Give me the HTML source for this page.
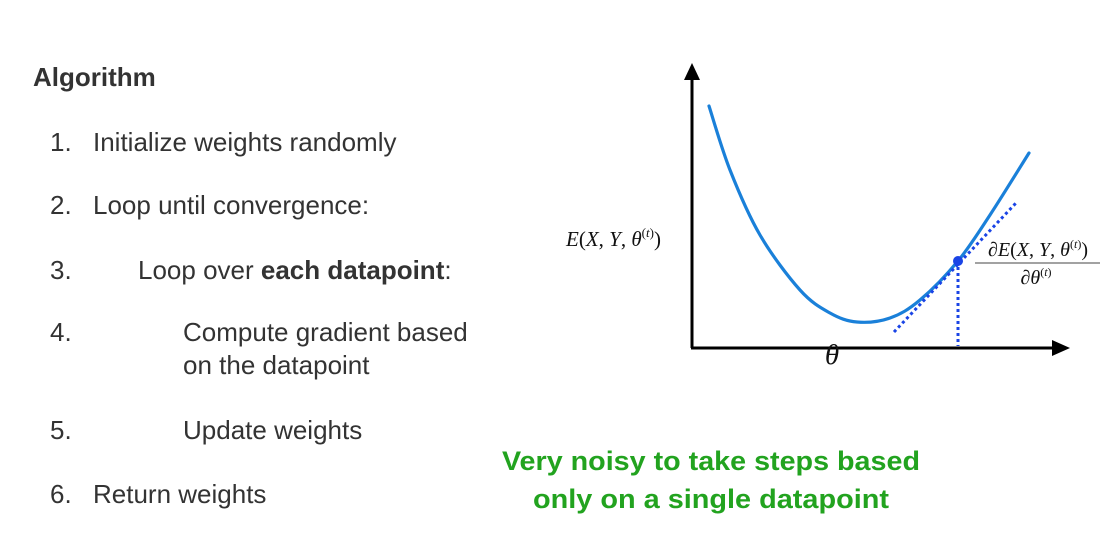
<!DOCTYPE html>
<html><head><meta charset="utf-8"><style>
html,body{margin:0;padding:0;background:#fff;}
svg{display:block;}
.t{font-family:"Liberation Sans",Arial,sans-serif;fill:#333;font-size:26px;}
.m{font-family:"Liberation Serif","DejaVu Serif",serif;fill:#111;}
</style></head><body>
<svg id="s" width="1103" height="540" viewBox="0 0 1103 540">
<text class="t" x="33" y="86" font-size="24" font-weight="bold">Algorithm</text>
<g>
<text class="t" x="50" y="151">1.</text><text class="t" x="93" y="151">Initialize weights randomly</text>
<text class="t" x="50" y="214">2.</text><text class="t" x="93" y="214">Loop until convergence:</text>
<text class="t" x="50" y="279">3.</text><text class="t" x="138" y="279">Loop over <tspan font-weight="bold">each datapoint</tspan>:</text>
<text class="t" x="50" y="341">4.</text><text class="t" x="183" y="341">Compute gradient based</text>
<text class="t" x="183" y="374">on the datapoint</text>
<text class="t" x="50" y="439">5.</text><text class="t" x="183" y="439">Update weights</text>
<text class="t" x="50" y="503">6.</text><text class="t" x="93" y="503">Return weights</text>
</g>
<text x="711" y="470" text-anchor="middle" font-family="Liberation Sans,Arial,sans-serif" font-weight="bold" font-size="27" fill="#22a31f" textLength="418" lengthAdjust="spacingAndGlyphs">Very noisy to take steps based</text>
<text x="711" y="508" text-anchor="middle" font-family="Liberation Sans,Arial,sans-serif" font-weight="bold" font-size="27" fill="#22a31f" textLength="356" lengthAdjust="spacingAndGlyphs">only on a single datapoint</text>
<g id="chart"></g>
</svg>
<script>
// curve samples (theta offset, error height)
const curveTheta = [17, 38, 68, 108, 138, 165, 198, 228, 266, 298, 337];
const curveError = [242, 178, 113, 58, 35, 26, 30, 48, 87, 133, 195];
const pointTheta = [266];
const pointError = [87];
const tangentTheta = [202, 324];
const tangentError = [16, 145];
const ox = 692, oy = 348;
function sx(v){return ox+v;}
function sy(v){return oy-v;}
const NS='http://www.w3.org/2000/svg';
const g=document.getElementById('chart');
function mk(tag,attrs){const e=document.createElementNS(NS,tag);for(const k in attrs)e.setAttribute(k,attrs[k]);g.appendChild(e);return e;}
let a=mk('line',{x1:ox,y1:oy,x2:ox,y2:75,stroke:'#000','stroke-width':3});


let ah=mk('polygon',{points:`${ox-8},80 ${ox},63 ${ox+8},80`,fill:'#000'});


let b=mk('line',{x1:ox-1,y1:oy,x2:1058,y2:oy,stroke:'#000','stroke-width':3});


let bh=mk('polygon',{points:`1052,${oy-8} 1070,${oy} 1052,${oy+8}`,fill:'#000'});


const P=curveTheta.map((t,i)=>[sx(t),sy(curveError[i])]);
let d=`M${P[0][0]},${P[0][1]}`;
for(let i=0;i<P.length-1;i++){const p0=P[Math.max(0,i-1)],p1=P[i],p2=P[i+1],p3=P[Math.min(P.length-1,i+2)];
d+=` C${p1[0]+(p2[0]-p0[0])/6},${p1[1]+(p2[1]-p0[1])/6} ${p2[0]-(p3[0]-p1[0])/6},${p2[1]-(p3[1]-p1[1])/6} ${p2[0]},${p2[1]}`;}
let c=mk('path',{d:d,fill:'none',stroke:'#1a80d9','stroke-width':3.2,'stroke-linecap':'round'});


let tl=mk('line',{x1:sx(tangentTheta[0]),y1:sy(tangentError[0]),x2:sx(tangentTheta[1]),y2:sy(tangentError[1]),stroke:'#1a44e6','stroke-width':3,'stroke-dasharray':'3 3'});


let vl=mk('line',{x1:sx(pointTheta[0]),y1:sy(pointError[0]),x2:sx(pointTheta[0]),y2:oy-2,stroke:'#1a44e6','stroke-width':3,'stroke-dasharray':'3 3'});


let pt=mk('circle',{cx:sx(pointTheta[0]),cy:sy(pointError[0]),r:5,fill:'#1a44e6'});


function txt(x,y,s,size,name,anchor){const e=mk('text',{x:x,y:y,'font-size':size,'class':'m','text-anchor':anchor||'start'});e.innerHTML=s;

return e;}
txt(566,246,'<tspan font-style="italic">E</tspan>(<tspan font-style="italic">X</tspan>, <tspan font-style="italic">Y</tspan>, <tspan font-style="italic">θ</tspan><tspan font-size="13" dy="-9">(<tspan font-style="italic">t</tspan>)</tspan><tspan dy="9">)</tspan>',21,'y-axis-title');
txt(832,364,'<tspan font-style="italic">θ</tspan>',29,'x-axis-title','middle');
txt(1038,256,'∂<tspan font-style="italic">E</tspan>(<tspan font-style="italic">X</tspan>, <tspan font-style="italic">Y</tspan>, <tspan font-style="italic">θ</tspan><tspan font-size="12" dy="-8">(<tspan font-style="italic">t</tspan>)</tspan><tspan dy="8">)</tspan>',20,'gradient-numerator','middle');
let fl=mk('line',{x1:975,y1:263,x2:1100,y2:263,stroke:'#444','stroke-width':1});


txt(1036,284,'∂<tspan font-style="italic">θ</tspan><tspan font-size="12" dy="-8">(<tspan font-style="italic">t</tspan>)</tspan>',20,'gradient-denominator','middle');
</script>
</body></html>
